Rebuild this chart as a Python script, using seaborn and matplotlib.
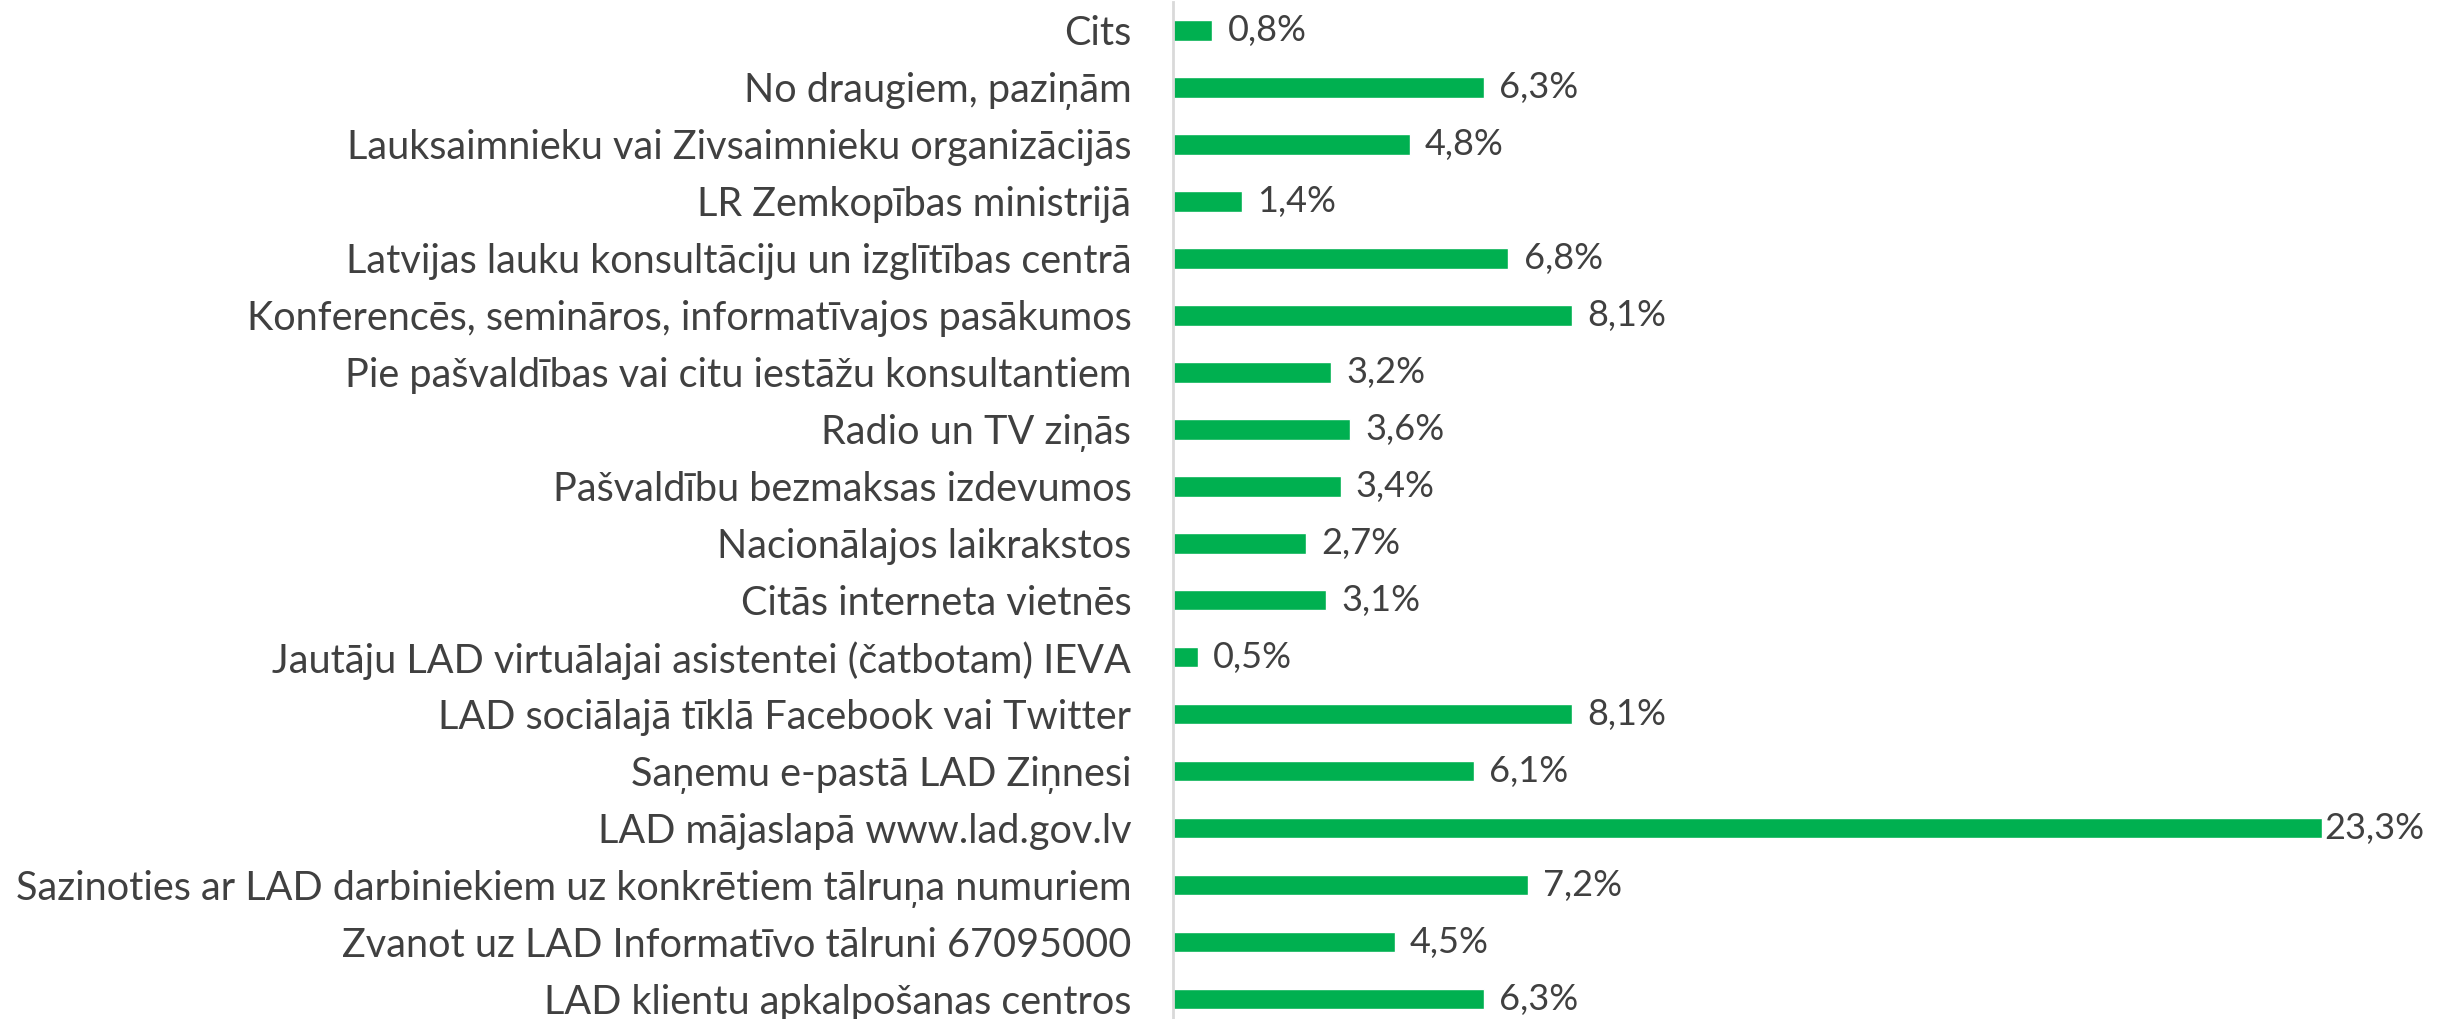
import matplotlib
matplotlib.use("Agg")
import matplotlib.pyplot as plt
import seaborn as sns
import pandas as pd

# ---- data (top to bottom as shown) ----
categories = [
    "Cits",
    "No draugiem, paziņām",
    "Lauksaimnieku vai Zivsaimnieku organizācijās",
    "LR Zemkopības ministrijā",
    "Latvijas lauku konsultāciju un izglītības centrā",
    "Konferencēs, semināros, informatīvajos pasākumos",
    "Pie pašvaldības vai citu iestāžu konsultantiem",
    "Radio un TV ziņās",
    "Pašvaldību bezmaksas izdevumos",
    "Nacionālajos laikrakstos",
    "Citās interneta vietnēs",
    "Jautāju LAD virtuālajai asistentei (čatbotam) IEVA",
    "LAD sociālajā tīklā Facebook vai Twitter",
    "Saņemu e-pastā LAD Ziņnesi",
    "LAD mājaslapā www.lad.gov.lv",
    "Sazinoties ar LAD darbiniekiem uz konkrētiem tālruņa numuriem",
    "Zvanot uz LAD Informatīvo tālruni 67095000",
    "LAD klientu apkalpošanas centros",
]
shares = [0.8, 6.3, 4.8, 1.4, 6.8, 8.1, 3.2, 3.6, 3.4, 2.7, 3.1, 0.5,
          8.1, 6.1, 23.3, 7.2, 4.5, 6.3]

df = pd.DataFrame({"category": categories, "share": shares})

sns.set_style("white")
plt.rcParams["font.family"] = ["Lato", "DejaVu Sans"]

TEXT = "#404040"
GREEN = "#00B050"

fig = plt.figure(figsize=(24.4, 10.19), dpi=100)
ax = fig.add_axes([1173 / 2440, 0.0, 1 - 1173 / 2440, 1017 / 1019])

sns.barplot(data=df, x="share", y="category", color=GREEN, width=0.36,
            saturation=1, ax=ax)

# value labels; the longest bar gets a tight label like in the original
top = max(shares)
labels = [f"{v:.1f}%".replace(".", ",") for v in shares]
ax.bar_label(ax.containers[0],
             labels=[l if v != top else "" for l, v in zip(labels, shares)],
             padding=11, fontsize=26, color=TEXT)
ax.bar_label(ax.containers[0],
             labels=[l if v == top else "" for l, v in zip(labels, shares)],
             padding=2, fontsize=26, color=TEXT)

ax.set_xlim(0, 25.7)
ax.set_ylim(17.35, -0.5)
ax.set_xlabel("")
ax.set_ylabel("")
ax.set_xticks([])
ax.tick_params(axis="y", length=0, pad=30, labelsize=28.5, labelcolor=TEXT)

for side in ["top", "right", "bottom"]:
    ax.spines[side].set_visible(False)
ax.spines["left"].set_color("#D9D9D9")
ax.spines["left"].set_linewidth(2)

fig.savefig("out.png", dpi=100)
